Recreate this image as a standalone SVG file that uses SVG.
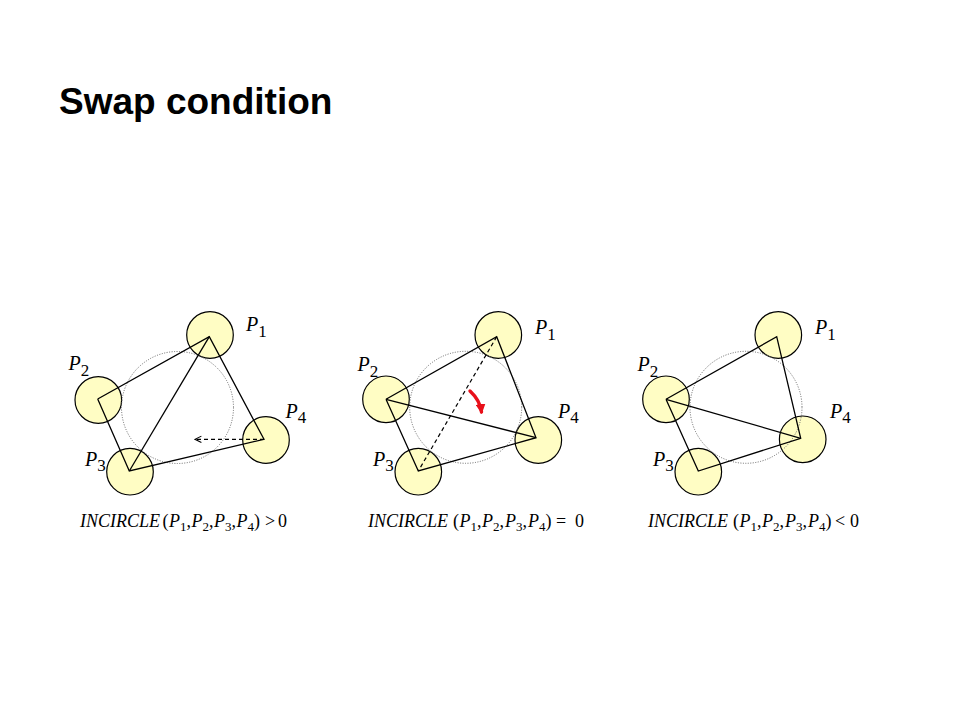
<svg xmlns="http://www.w3.org/2000/svg" width="960" height="720" viewBox="0 0 960 720">
<style>
.title{font-family:"Liberation Sans",Arial,sans-serif;font-weight:bold;font-size:37px;fill:#000}
.pt{fill:#FFFDC4;stroke:#000;stroke-width:1.2}
.cc{fill:none;stroke:#666;stroke-width:1;stroke-dasharray:1 1.5}
.edge{fill:none;stroke:#000;stroke-width:1.3}
.dash{fill:none;stroke:#000;stroke-width:1.2;stroke-dasharray:4 3}
.lbl{font-family:"Liberation Serif","Times New Roman",serif;font-size:20px;font-style:italic;fill:#000}
.sub{font-style:normal;font-size:17px}
.fm{font-family:"Liberation Serif","Times New Roman",serif;font-size:18px;fill:#000}
.it{font-style:italic}
.fs{font-size:13px}
.red{fill:none;stroke:#E8101A;stroke-width:3.4;stroke-linecap:round}
</style>
<defs>
<marker id="openhead" viewBox="0 0 10 10" refX="9" refY="5" markerWidth="8" markerHeight="8" markerUnits="userSpaceOnUse" orient="auto">
<path d="M1,1 L9,5 L1,9" fill="none" stroke="#000" stroke-width="1.3"/>
</marker>
<marker id="redhead" viewBox="0 0 10 10" refX="8" refY="5" markerWidth="10" markerHeight="10" markerUnits="userSpaceOnUse" orient="auto">
<path d="M0,0 L10,5 L0,10 Z" fill="#E8101A"/>
</marker>
</defs>

<text class="title" x="59" y="114">Swap condition</text>

<!-- Panel 1 -->
<g id="panel1">
<g id="p1-P1"><circle class="pt" cx="210" cy="335" r="23.3"/><text class="lbl" x="246" y="331">P<tspan class="sub" dy="6">1</tspan></text></g>
<g id="p1-P2"><circle class="pt" cx="98.3" cy="400" r="23.3"/><text class="lbl" x="68.5" y="370">P<tspan class="sub" dy="6">2</tspan></text></g>
<g id="p1-P3"><circle class="pt" cx="130" cy="471.7" r="23.3"/><text class="lbl" x="85" y="466">P<tspan class="sub" dy="5">3</tspan></text></g>
<g id="p1-P4"><circle class="pt" cx="266" cy="440" r="23.3"/><text class="lbl" x="285.5" y="418">P<tspan class="sub" dy="5">4</tspan></text></g>
<circle id="p1-circ" class="cc" cx="177.5" cy="407.5" r="56"/>
<g id="p1-connectors">
<polyline class="edge" points="97.7,399 209.3,336.7 264,439.3 129.3,471 97.7,399"/>
<line class="edge" x1="209.3" y1="336.7" x2="129.3" y2="471"/>
<line class="dash" x1="264" y1="439.3" x2="195" y2="439.3" marker-end="url(#openhead)"/>
</g>
<text class="fm" y="527"><tspan class="it" x="80">INCIRCLE</tspan><tspan x="162.5">(</tspan><tspan class="it" x="169">P</tspan><tspan class="fs" x="180" y="531">1</tspan><tspan x="186.5" y="527">,</tspan><tspan class="it" x="191.5">P</tspan><tspan class="fs" x="202.5" y="531">2</tspan><tspan x="209" y="527">,</tspan><tspan class="it" x="214">P</tspan><tspan class="fs" x="225" y="531">3</tspan><tspan x="231.5" y="527">,</tspan><tspan class="it" x="236.5">P</tspan><tspan class="fs" x="247.5" y="531">4</tspan><tspan x="254" y="527">)</tspan><tspan x="265">&gt;</tspan><tspan x="278">0</tspan></text>
</g>

<!-- Panel 2 -->
<g id="panel2">
<g id="p2-P1"><circle class="pt" cx="498.3" cy="335" r="23.3"/><text class="lbl" x="535" y="334">P<tspan class="sub" dy="6">1</tspan></text></g>
<g id="p2-P2"><circle class="pt" cx="386" cy="399.3" r="23.3"/><text class="lbl" x="357.5" y="371">P<tspan class="sub" dy="6">2</tspan></text></g>
<g id="p2-P3"><circle class="pt" cx="418.3" cy="471.7" r="23.3"/><text class="lbl" x="373" y="466">P<tspan class="sub" dy="5">3</tspan></text></g>
<g id="p2-P4"><circle class="pt" cx="538.3" cy="440" r="23.3"/><text class="lbl" x="558" y="418">P<tspan class="sub" dy="5">4</tspan></text></g>
<circle id="p2-circ" class="cc" cx="465.7" cy="407.3" r="56"/>
<g id="p2-connectors">
<polyline class="edge" points="386,399.3 496.7,336.7 536,437.7 418.3,471 386,399.3"/>
<line class="edge" x1="386" y1="399.3" x2="536" y2="437.7"/>
<line class="dash" x1="496.7" y1="336.7" x2="418.3" y2="471"/>
<path class="red" d="M470,391 C476.5,397 480.5,404 481.5,412" marker-end="url(#redhead)"/>
</g>
<text class="fm" y="527"><tspan class="it" x="368">INCIRCLE</tspan><tspan x="453">(</tspan><tspan class="it" x="459.5">P</tspan><tspan class="fs" x="470.5" y="531">1</tspan><tspan x="477" y="527">,</tspan><tspan class="it" x="482">P</tspan><tspan class="fs" x="493" y="531">2</tspan><tspan x="499.5" y="527">,</tspan><tspan class="it" x="505">P</tspan><tspan class="fs" x="516" y="531">3</tspan><tspan x="522.5" y="527">,</tspan><tspan class="it" x="528">P</tspan><tspan class="fs" x="539" y="531">4</tspan><tspan x="545.5" y="527">)</tspan><tspan x="556">=</tspan><tspan x="575">0</tspan></text>
</g>

<!-- Panel 3 -->
<g id="panel3">
<g id="p3-P1"><circle class="pt" cx="778.3" cy="335" r="23.3"/><text class="lbl" x="815" y="334">P<tspan class="sub" dy="6">1</tspan></text></g>
<g id="p3-P2"><circle class="pt" cx="666" cy="399.3" r="23.3"/><text class="lbl" x="637.5" y="371">P<tspan class="sub" dy="6">2</tspan></text></g>
<g id="p3-P3"><circle class="pt" cx="698.3" cy="471.7" r="23.3"/><text class="lbl" x="653" y="466">P<tspan class="sub" dy="5">3</tspan></text></g>
<g id="p3-P4"><circle class="pt" cx="802.7" cy="439.3" r="23.3"/><text class="lbl" x="830" y="418">P<tspan class="sub" dy="5">4</tspan></text></g>
<circle id="p3-circ" class="cc" cx="746" cy="407.3" r="56"/>
<g id="p3-connectors">
<polyline class="edge" points="666,399.3 776.7,336.7 800.7,438.3 698.3,471 666,399.3"/>
<line class="edge" x1="666" y1="399.3" x2="800.7" y2="438.3"/>
</g>
<text class="fm" y="527"><tspan class="it" x="648">INCIRCLE</tspan><tspan x="733">(</tspan><tspan class="it" x="739.5">P</tspan><tspan class="fs" x="750.5" y="531">1</tspan><tspan x="757" y="527">,</tspan><tspan class="it" x="762">P</tspan><tspan class="fs" x="773" y="531">2</tspan><tspan x="779.5" y="527">,</tspan><tspan class="it" x="785">P</tspan><tspan class="fs" x="796" y="531">3</tspan><tspan x="802.5" y="527">,</tspan><tspan class="it" x="808">P</tspan><tspan class="fs" x="819" y="531">4</tspan><tspan x="825.5" y="527">)</tspan><tspan x="835">&lt;</tspan><tspan x="850">0</tspan></text>
</g>
</svg>
